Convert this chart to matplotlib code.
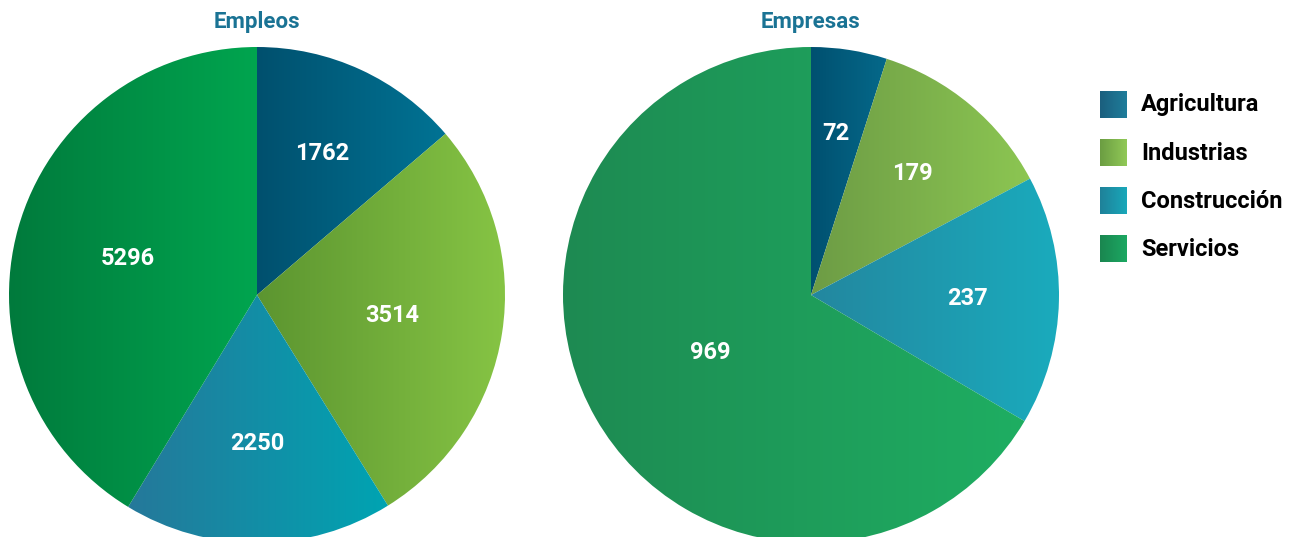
import numpy as np
import matplotlib
matplotlib.use("Agg")
import matplotlib.pyplot as plt
from matplotlib.colors import to_rgb

# data
categories = ["Agricultura", "Industrias", "Construcción", "Servicios"]
empleos = [1762, 3514, 2250, 5296]
empresas = [72, 179, 237, 969]

# gradient colours (left -> right) for each slice
grad_empleos = [("#00506e", "#007394"), ("#5c9530", "#86c444"),
                ("#25789a", "#00a4b2"), ("#007a3c", "#00a54f")]
grad_empresas = [("#005070", "#05698a"), ("#6d9c45", "#8cc652"),
                 ("#23879f", "#1aabbd"), ("#1d8a52", "#1fae62")]
grad_legend = [("#1b5f7e", "#1f7d9b"), ("#6b9d42", "#91c957"),
               ("#1f8199", "#19a8ba"), ("#1a8650", "#1ca862")]
label_r_empleos = [0.63, 0.55, 0.60, 0.54]
label_r_empresas = [0.66, 0.64, 0.63, 0.47]

W, H = 1293, 537
fig = plt.figure(figsize=(W / 100, H / 100), dpi=100)
FONT = ["Liberation Sans Narrow", "Roboto", "DejaVu Sans"]
title_color = "#1a7394"


def hgrad(c1, c2, n=256):
    a = np.array(to_rgb(c1)); b = np.array(to_rgb(c2))
    t = np.linspace(0, 1, n)[None, :, None]
    return a + (b - a) * t


def draw_pie(cx, cy, r, values, grads, radii, title):
    ax = fig.add_axes([(cx - r) / W, (H - cy - r) / H, 2 * r / W, 2 * r / H])
    wedges, _ = ax.pie(values, startangle=90, counterclock=False,
                       colors=["none"] * len(values), radius=1,
                       wedgeprops=dict(linewidth=0))
    ax.set_xlim(-1, 1); ax.set_ylim(-1, 1)
    ax.set_aspect("equal")
    ax.axis("off")
    total = sum(values)
    start = 90.0
    for w, v, (c1, c2), lr in zip(wedges, values, grads, radii):
        verts = w.get_path().vertices
        bb = w.get_path().get_extents(w.get_transform() - ax.transData)
        im = ax.imshow(hgrad(c1, c2), extent=[bb.x0, bb.x1, bb.y0, bb.y1],
                       aspect="auto", zorder=1, interpolation="bilinear")
        im.set_clip_path(w)
        span = 360.0 * v / total
        mid = np.deg2rad(start - span / 2)
        start -= span
        ax.text(lr * np.cos(mid), lr * np.sin(mid), str(v), color="white",
                fontsize=17, fontweight="bold", family=FONT,
                ha="center", va="center", zorder=3)
    ax.set_xlim(-1, 1); ax.set_ylim(-1, 1)
    fig.text(cx / W, 1 - 22 / H, title, color=title_color, fontsize=16,
             fontweight="bold", family=FONT, ha="center", va="center")


draw_pie(257, 295, 248, empleos, grad_empleos, label_r_empleos, "Empleos")
draw_pie(811, 295, 248, empresas, grad_empresas, label_r_empresas, "Empresas")

# legend with gradient squares
lax = fig.add_axes([0, 0, 1, 1])
lax.set_xlim(0, W); lax.set_ylim(H, 0)
lax.axis("off")
for i, (name, (c1, c2)) in enumerate(zip(categories, grad_legend)):
    yc = 105 + 48 * i
    lax.imshow(hgrad(c1, c2), extent=[1100, 1127, yc + 13.5, yc - 13.5],
               aspect="auto", interpolation="bilinear")
    lax.text(1141, yc, name, fontsize=17, fontweight="bold", family=FONT,
             color="black", ha="left", va="center")
lax.set_xlim(0, W); lax.set_ylim(H, 0)

fig.savefig("out.png", dpi=100)
